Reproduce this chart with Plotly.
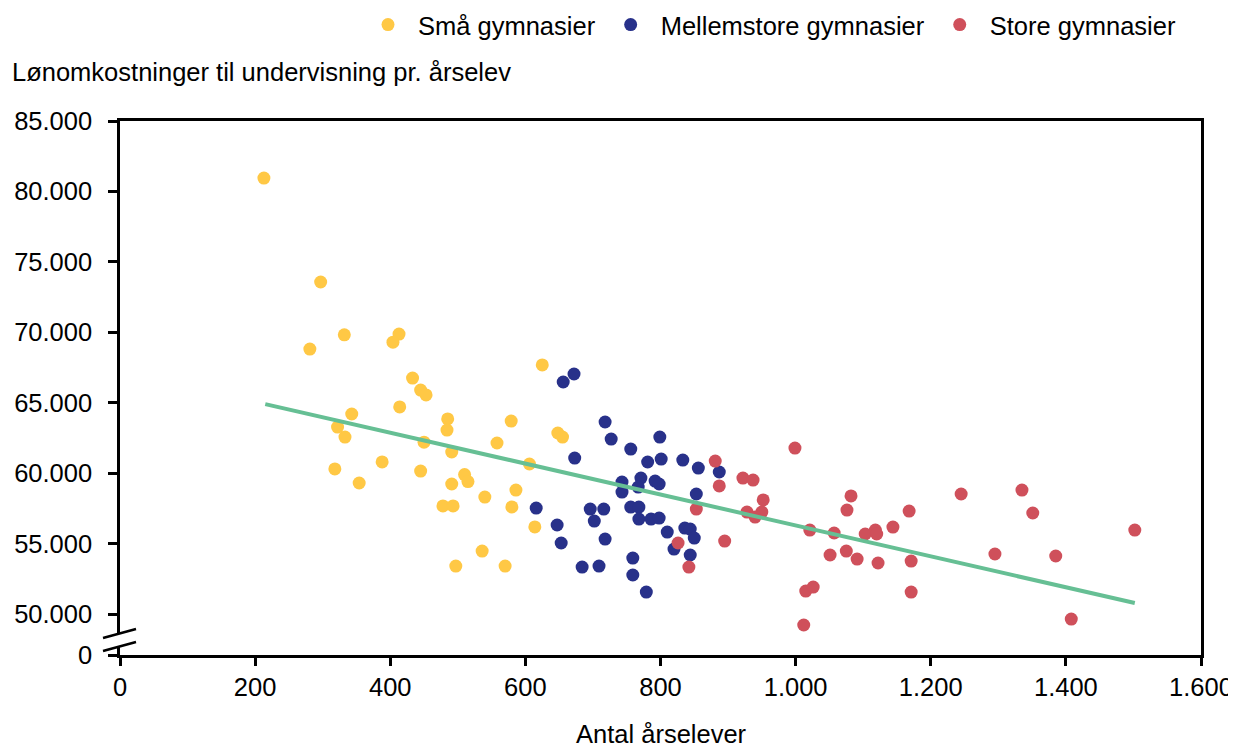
import plotly.graph_objects as go

# ---------------- data ----------------
small_x = [213, 297, 281, 332, 413, 404, 433, 445, 453, 414, 343, 322, 333, 485, 484,
           450, 318, 354, 388, 445, 491, 510, 515, 491, 540, 586, 478, 493, 580, 579,
           558, 606, 614, 536, 497, 570, 625, 648, 655]
small_y = [80950, 73570, 68810, 69820, 69870, 69300, 66750, 65900, 65550, 64700, 64200,
           63270, 62560, 63850, 63060, 62200, 60300, 59300, 60800, 60150, 61500, 59900,
           59400, 59230, 58300, 58800, 57670, 57670, 57600, 63700, 62140, 60650, 56180,
           54470, 53400, 53400, 67680, 62850, 62560]

medium_x = [672, 656, 718, 727, 799, 756, 673, 781, 801, 833, 856, 887, 743, 771, 743,
            767, 792, 798, 853, 616, 696, 716, 702, 756, 768, 768, 786, 798, 810, 836,
            844, 850, 820, 844, 647, 653, 718, 759, 684, 709, 759, 779]
medium_y = [67040, 66470, 63630, 62420, 62560, 61710, 61070, 60790, 61000, 60930, 60360,
            60080, 59370, 59650, 58660, 59010, 59440, 59230, 58520, 57520, 57450, 57450,
            56600, 57590, 57590, 56740, 56740, 56810, 55820, 56100, 56030, 55390, 54610,
            54190, 56320, 55040, 55320, 53970, 53330, 53400, 52770, 51560]

large_x = [881, 922, 937, 887, 952, 853, 928, 950, 940, 826, 895, 842, 999, 1082, 1076,
           1245, 1335, 1351, 1502, 1168, 1144, 1021, 1057, 1103, 1118, 1120, 1051, 1075,
           1091, 1122, 1171, 1295, 1385, 1015, 1026, 1171, 1012, 1408]
large_y = [60860, 59650, 59510, 59090, 58100, 57450, 57240, 57240, 56880, 55040, 55180,
           53330, 61780, 58380, 57380, 58520, 58800, 57170, 55960, 57310, 56170, 55960,
           55750, 55680, 55960, 55680, 54190, 54470, 53900, 53620, 53760, 54260, 54120,
           51630, 51910, 51560, 49220, 49640]

trend_x = [215, 1502]
trend_y = [64900, 50780]

series_names = ["Små gymnasier", "Mellemstore gymnasier", "Store gymnasier"]

x_ticks = [0, 200, 400, 600, 800, 1000, 1200, 1400, 1600]
y_break_value = 47090          # axis bottom, labelled "0" (broken axis)
y_ticks = [50000, 55000, 60000, 65000, 70000, 75000, 80000, 85000]
y_tick_labels = ["50.000", "55.000", "60.000", "65.000", "70.000", "75.000", "80.000", "85.000"]

y_title = "Lønomkostninger til undervisning pr. årselev"
x_title = "Antal årselever"

# ---------------- style ----------------
FONT = "Arial, Liberation Sans, sans-serif"
FS = 25.5
colors = ["#FFC845", "#28318A", "#CF505B"]
trend_color = "#66BF94"

fig = go.Figure()
for name, xs, ys, c in zip(series_names, [small_x, medium_x, large_x],
                           [small_y, medium_y, large_y], colors):
    fig.add_trace(go.Scatter(x=xs, y=ys, mode="markers", name=name,
                             marker=dict(color=c, size=13, line=dict(width=0))))

fig.add_trace(go.Scatter(x=trend_x, y=trend_y, mode="lines", showlegend=False,
                         line=dict(color=trend_color, width=4), hoverinfo="skip"))

# page has an 8px body margin: the figure is placed at (8, 8) on screen
OFF = 8
W, H = 1236 - OFF, 751 - OFF
# plot area in screen pixels
SL, SR, ST, SB = 120, 1201, 121, 655
L, T = SL - OFF, ST - OFF
R, B = W - (SR - OFF), H - (SB - OFF)
pw, ph = SR - SL, SB - ST


def px(xp):
    return (xp - SL) / pw


def py(yp):
    return (SB - yp) / ph


fig.update_layout(
    width=W, height=H,
    margin=dict(l=L, r=R, t=T, b=B, autoexpand=False),
    plot_bgcolor="white", paper_bgcolor="white",
    separators=",.",
    font=dict(family=FONT, size=FS, color="black"),
    showlegend=True,
    legend=dict(orientation="h", x=px(358), xanchor="left", y=py(25), yanchor="middle",
                itemwidth=50, entrywidthmode="pixels",
                font=dict(family=FONT, size=FS, color="black"), bgcolor="rgba(0,0,0,0)"),
    xaxis=dict(range=[0, 1600], tickvals=x_ticks, tickformat=",d", automargin=False,
               showgrid=False, zeroline=False, showline=True, linecolor="black",
               linewidth=2.5, mirror=True, ticks="outside", ticklen=8, tickwidth=2.5,
               tickcolor="black", ticklabelstandoff=0),
    yaxis=dict(range=[y_break_value, 85000], tickvals=[y_break_value] + y_ticks,
               ticktext=["0"] + y_tick_labels, automargin=False,
               showgrid=False, zeroline=False, showline=True, linecolor="black",
               linewidth=2.5, mirror=True, ticks="outside", ticklen=9, tickwidth=2.5,
               tickcolor="black", ticklabelstandoff=11),
)

fig.add_annotation(text=y_title, xref="paper", yref="paper", x=px(10), y=py(72),
                   xanchor="left", yanchor="middle", showarrow=False,
                   font=dict(family=FONT, size=FS, color="black"))
fig.add_annotation(text=x_title, xref="paper", yref="paper", x=px(661), y=py(750),
                   xanchor="center", yanchor="bottom", showarrow=False,
                   font=dict(family=FONT, size=FS, color="black"))

# axis-break marks
x0, x1 = px(103), px(136)
fig.add_shape(type="path", xref="paper", yref="paper", layer="above",
              path=f"M {x0} {py(638)} L {x1} {py(629)} L {x1} {py(642)} L {x0} {py(651)} Z",
              fillcolor="white", line=dict(width=0))
fig.add_shape(type="line", xref="paper", yref="paper", layer="above",
              x0=x0, y0=py(638), x1=x1, y1=py(629), line=dict(color="black", width=2.5))
fig.add_shape(type="line", xref="paper", yref="paper", layer="above",
              x0=x0, y0=py(651), x1=x1, y1=py(642), line=dict(color="black", width=2.5))

fig.write_html("out.html")
